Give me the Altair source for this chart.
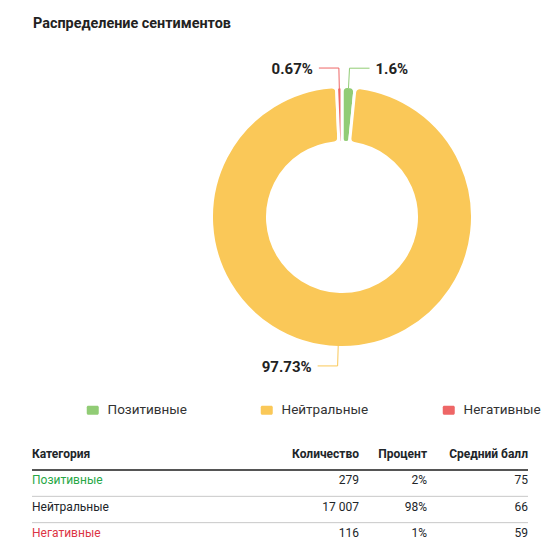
import math
import pandas as pd
import altair as alt

# ---- data ----
categories = ["Позитивные", "Нейтральные", "Негативные"]
counts = [279, 17007, 116]
avg_scores = [75, 66, 59]
columns = ["Категория", "Количество", "Процент", "Средний балл"]

slice_colors = ["#91cc75", "#fac858", "#ee6666"]
name_colors = ["#28a745", "#212529", "#dc3545"]

FONT = "Roboto"
W, H = 544, 497            # view size (page minus margins / title strip)
CX, CY = 334, 169          # donut centre inside the view
R_OUT, R_IN = 129, 76
LEN1, LEN2 = 20, 20        # leader line segments

total = sum(counts)
pie = pd.DataFrame({"category": categories, "count": counts, "idx": range(len(categories))})
pie["share"] = pie["count"] / total
pie["mid"] = (pie["count"].cumsum() - pie["count"] / 2) / total * 2 * math.pi

# leader lines: radial piece, then horizontal piece outwards
pts = []
for _, r in pie.iterrows():
    s, c = math.sin(r["mid"]), math.cos(r["mid"])
    side = 1 if s >= 0 else -1
    x1, y1 = (R_OUT + LEN1) * s, (R_OUT + LEN1) * c
    for k, (px, py) in enumerate([(R_OUT * s, R_OUT * c), (x1, y1), (x1 + side * LEN2, y1)]):
        pts.append({"category": r["category"], "k": k, "x": px, "y": py, "side": side})
lines = pd.DataFrame(pts)
labels = lines[lines["k"] == 2].merge(pie[["category", "share"]], on="category")

# pixel-unit scales centred on the donut
xs = alt.Scale(domain=[-CX, W - CX], nice=False, zero=False)
ys = alt.Scale(domain=[CY - H, CY], nice=False, zero=False)

rounded = "M-0.75,-0.75H0.75A0.25,0.25 0 0 1 1,-0.5V0.5A0.25,0.25 0 0 1 0.75,0.75H-0.75A0.25,0.25 0 0 1 -1,0.5V-0.5A0.25,0.25 0 0 1 -0.75,-0.75Z"

arcs = alt.Chart(pie).mark_arc(
    radius=R_OUT + 1.5, radius2=R_IN - 1.5, cornerRadius=5, stroke="white", strokeWidth=3
).encode(
    x=alt.XDatum(0, type="quantitative", scale=xs, axis=None),
    y=alt.YDatum(0, type="quantitative", scale=ys, axis=None),
    theta=alt.Theta("count:Q", stack=True),
    order=alt.Order("idx:Q", sort="ascending"),
    color=alt.Color("category:N", scale=alt.Scale(domain=categories, range=slice_colors),
                    legend=alt.Legend(orient="none", legendX=78, legendY=355, direction="horizontal",
                                      title=None, symbolType=rounded, symbolSize=144, symbolStrokeWidth=0,
                                      labelFont=FONT, labelFontSize=13.5, labelColor="#333",
                                      labelOffset=8, columnPadding=73, padding=0)),
)

leaders = alt.Chart(lines).mark_line(strokeWidth=1).encode(
    x=alt.X("x:Q", scale=xs, axis=None),
    y=alt.Y("y:Q", scale=ys, axis=None),
    color=alt.Color("category:N", scale=alt.Scale(domain=categories, range=slice_colors), legend=None),
    detail="category:N",
    order="k:Q",
)

lab_left = alt.Chart(labels).transform_filter("datum.side < 0").mark_text(
    font=FONT, fontSize=15, fontWeight="bold", color="#222", align="right", baseline="middle", dx=-6, dy=1
).encode(
    x=alt.X("x:Q", scale=xs, axis=None),
    y=alt.Y("y:Q", scale=ys, axis=None),
    text=alt.Text("share:Q", format=".2~%"),
)
lab_right = alt.Chart(labels).transform_filter("datum.side > 0").mark_text(
    font=FONT, fontSize=15, fontWeight="bold", color="#222", align="left", baseline="middle", dx=6, dy=1
).encode(
    x=alt.X("x:Q", scale=xs, axis=None),
    y=alt.Y("y:Q", scale=ys, axis=None),
    text=alt.Text("share:Q", format=".2~%"),
)

donut = alt.layer(arcs, leaders, lab_left, lab_right)

# ---- table ----
cells = []
for i, cat in enumerate(categories):
    vals = [cat, f"{counts[i]:,}".replace(",", " "), f"{round(counts[i] / total * 100)}%", str(avg_scores[i])]
    for ci, v in enumerate(vals):
        cells.append({"row": cat, "ci": ci, "text": v})
cells = pd.DataFrame(cells)
header = pd.DataFrame({"row": "header", "ci": range(len(columns)), "text": columns})
row_order = ["header"] + categories

tx = alt.Scale(domain=[0, 1, 2, 3], range=[24, 351, 419, 520], nice=False, zero=False)
ty = alt.Scale(type="point", domain=row_order, range=[406, 485], padding=0)

def cell_layer(df, align, flt, **kw):
    return alt.Chart(df).transform_filter(flt).mark_text(
        font=FONT, fontSize=12, align=align, baseline="middle", **kw
    ).encode(
        x=alt.X("ci:Q", scale=tx, axis=None),
        y=alt.Y("row:N", scale=ty, axis=None),
        text="text:N",
    )

head_l = cell_layer(header, "left", "datum.ci == 0", fontWeight="bold", color="#212529")
head_r = cell_layer(header, "right", "datum.ci > 0", fontWeight="bold", color="#212529")
body_l = cell_layer(cells, "left", "datum.ci == 0").encode(
    color=alt.Color("row:N", scale=alt.Scale(domain=categories, range=name_colors), legend=None))
body_r = cell_layer(cells, "right", "datum.ci > 0", color="#212529")

rule_rows = pd.DataFrame({"row": row_order[:-1]})
head_rule = alt.Chart(rule_rows).transform_filter("datum.row == 'header'").mark_rule(
    color="#555", strokeWidth=2, yOffset=16
).encode(
    x=alt.XDatum(0, type="quantitative", scale=tx, axis=None),
    x2=alt.X2Datum(3),
    y=alt.Y("row:N", scale=ty, axis=None),
)
sep_rule = alt.Chart(rule_rows).transform_filter("datum.row != 'header'").mark_rule(
    color="#c8c8c8", strokeWidth=1, yOffset=16
).encode(
    x=alt.XDatum(0, type="quantitative", scale=tx, axis=None),
    x2=alt.X2Datum(3),
    y=alt.Y("row:N", scale=ty, axis=None),
)

table = alt.layer(head_rule, sep_rule, head_l, head_r, body_l, body_r)

chart = alt.layer(donut, table).resolve_scale(
    x="independent", y="independent", color="independent"
).properties(
    width=W, height=H, autosize="none",
    padding={"left": 0, "top": 40, "right": 0, "bottom": 0},
    title=alt.Title("Распределение сентиментов", anchor="start", dx=25, offset=17,
                    font=FONT, fontSize=14.4, fontWeight="bold", color="#222"),
).configure_view(strokeWidth=0)

chart.save("out.html", embed_options={"renderer": "svg", "actions": False})
